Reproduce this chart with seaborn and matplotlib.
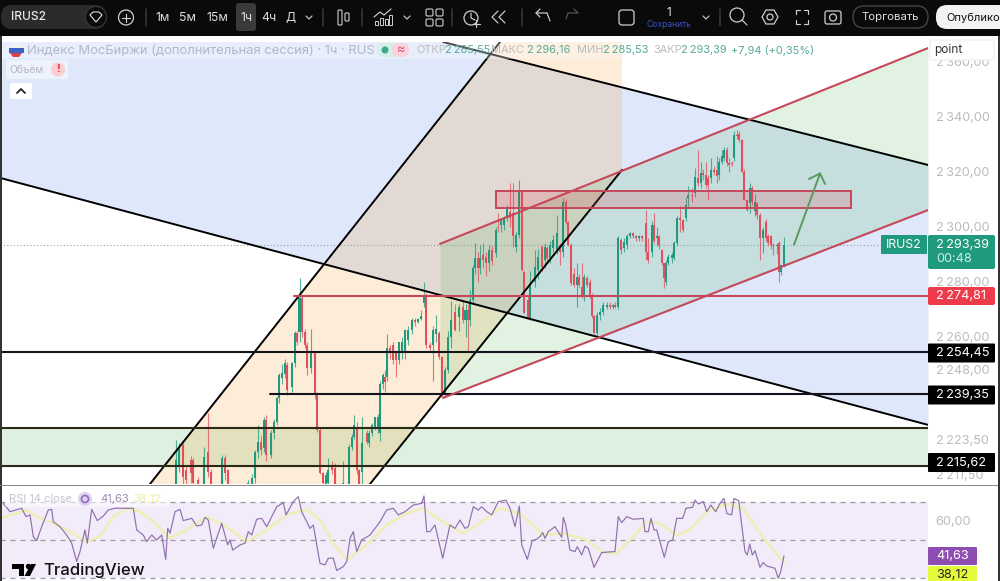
import matplotlib
matplotlib.use("Agg")
import matplotlib.pyplot as plt
from matplotlib.patches import Rectangle, FancyBboxPatch, Circle, Polygon
import pandas as pd
import seaborn as sns

# hourly candles, time axis has no labels on the picture so t is just a running position
candle_t = [176,179,183,186,191,193,198,204,208,211,
            222,225,228,248,252,255,258,261,264,266,
            271,274,277,279,282,285,287,292,295,297,
            299.5,302,305,307,311,315,317,320,323,326,
            328,332,335,343,349,352,354,357,359,362,
            367,369,372,375,378,380,383,385,387,390,
            393,396,399,402,405,408,412,415,418,421,
            424,426,430,433,436,439,442,445,448,451,
            455,459,463,465.5,468,470,473,475,478,480,
            483,486,489,492,496,498,501,504,507,510,
            513,516,519,522,524,528,530,535,538,542,
            545,547,550,553,557,560,563,566,568,571,
            574,577,579,582,584,587,590,592,594,597,
            600,603,607,610,613,615,618,621,624,627,
            630,633,636,639,642,646,648,652,654,657,
            659,662,664,666,668,672,674,677,680,683,
            686,688,692,695,698,701,703,706,708,711,
            714,717,719,722,724,727,729,732,734,737,
            739,742,744,747,750,752,755,757,760,763,
            766,768,771,773,777,779,781,784]
candle_o = [2205,2212.8,2220.7,2211.6,2215.2,2215.2,2208,2206,2218.2,2211,
            2206,2215.8,2211.6,2205,2205,2208.5,2218.2,2221.9,2219.5,2229.8,
            2217,2224.9,2229.2,2237.6,2245,2246.5,2249.8,2241.9,2250.4,2261.3,
            2261.9,2274,2261.9,2257,2248.5,2254,2239.5,2226,2210.4,2206,
            2206.7,2212.8,2212.2,2205,2206,2220.1,2223.7,2227.3,2211.6,2211,
            2225,2221.3,2225,2227.3,2227,2225,2243,2245.4,2245.5,2255.8,
            2257,2254,2251.6,2254,2254.6,2258.8,2262.5,2266,2265.5,2266.5,
            2272.2,2275.2,2257,2257,2261,2261.3,2252.8,2238.9,2247.9,2260.1,
            2269,2267.3,2271,2266,2269.8,2266.2,2273.4,2285,2288.6,2285,
            2289.8,2289,2286.8,2291.6,2290.4,2302.5,2300.7,2300.7,2303.1,2305.5,
            2304.9,2292.8,2297,2312.8,2283.7,2273.4,2266.8,2280,2284.3,2292.8,
            2288,2292.2,2288.6,2292.2,2291.6,2293.4,2291,2309.2,2301.9,2293.4,
            2283,2279,2281.9,2278.3,2275.2,2281.3,2280.1,2275.2,2267.4,2261.3,
            2268,2269.2,2270.8,2271.6,2270.8,2271.6,2271,2295.2,2292.2,2293.4,
            2296.5,2297.7,2296.7,2295.9,2296.5,2301.4,2291,2291,2300.7,2296,
            2296.5,2291.6,2286.8,2280,2286.8,2288.6,2288.6,2294,2303.1,2302.5,
            2303.1,2310.6,2311.7,2312.2,2317.7,2315.9,2319.5,2318.9,2317.7,2317.7,
            2320.7,2320.7,2318.9,2323.7,2325,2327.8,2323.1,2323.1,2325,2333.4,
            2333.8,2331.6,2320.1,2309.8,2308.6,2314,2305.6,2308.6,2304.4,2295.9,
            2301.9,2296.5,2296.5,2293.4,2293,2294,2283.4,2285.55]
candle_h = [2222.5,2221.3,2221.3,2213,2216.5,2216,2209,2220,2232.2,2212,
            2217,2217,2212,2208,2210,2219,2228,2224,2231,2231.6,
            2226,2230,2238,2247,2250,2252,2251,2251,2262,2262,
            2281.3,2275,2263,2258,2263,2255,2240,2227,2211,2211,
            2216,2215,2214,2215,2221,2224.5,2231.6,2229,2212,2231,
            2226,2226,2228.5,2231,2232,2244,2247,2248,2261,2257,
            2258,2255,2258,2260,2263,2264,2267,2267,2267,2269.8,
            2280,2276,2258,2264,2268,2262,2253,2249,2262,2273,
            2272,2272,2273,2272,2272,2277,2286,2294,2291,2293.5,
            2294,2291,2293.5,2293,2300,2305,2303,2304,2308,2315.9,
            2315.9,2298,2317,2313,2284,2275,2284,2291.6,2292,2293.5,
            2294,2293,2295,2297,2304.3,2294,2310.4,2310,2302,2294,
            2285,2286.8,2283,2286.8,2283,2282,2281,2276,2268,2269,
            2270.5,2272.5,2272.5,2272.5,2272,2272.5,2296.5,2296,2296,2297.5,
            2298,2298,2297,2297,2297,2306.2,2296,2302,2305,2300,
            2297,2292,2287,2288,2290,2291,2295,2304,2307.4,2303,
            2311,2315,2314,2321.3,2328,2323.7,2321,2323.7,2319,2325,
            2322,2325.6,2325,2328,2329,2329,2325,2324,2335,2335.3,
            2335,2332,2321,2310,2316,2315,2312,2309,2305,2300,
            2303,2297.5,2297,2294,2294,2295,2286,2296.16]
candle_l = [2200,2211,2206,2205,2207,2203,2200,2203,2209,2202,
            2203,2208,2200,2202,2203,2207,2216,2217,2218,2215,
            2216,2223,2228,2236,2243,2245,2239,2240,2249,2257,
            2258,2260,2256,2246,2247,2237.5,2225.5,2210,2206,2202,
            2204,2210,2203,2202,2204,2219,2223,2210,2203,2205,
            2221,2220,2224,2226,2225,2222,2241,2240,2244,2252,
            2250,2245.5,2250,2252,2252,2257,2261,2264,2265,2266,
            2271,2256,2255,2244,2258,2252,2238,2238,2247,2256,
            2262,2262,2265,2260,2255,2264,2272,2283,2280,2283,
            2285,2282,2284,2286,2289,2298,2298,2299,2302,2300,
            2292.8,2291,2296,2284,2268.6,2266.6,2266,2278,2281,2284,
            2285,2287,2287,2291,2290,2286,2289,2301,2293,2279,
            2278,2271,2278,2274,2273,2278,2274,2267,2261,2260,
            2266,2268,2270,2270,2270,2270.5,2270,2290,2291,2292,
            2296,2296,2295,2295,2295,2288,2287,2289,2294,2293,
            2292,2286,2277.7,2279,2286,2287,2288,2293,2298,2298,
            2302,2307,2309,2311,2315,2314,2317,2314,2309.8,2316,
            2319,2315.9,2317,2323,2324,2322,2320,2322,2324,2332,
            2331,2320,2309.8,2305.6,2305,2308,2304,2303,2288,2290.4,
            2295,2293,2292,2289.8,2290,2280,2282.5,2285.53]
candle_c = [2215.2,2220.1,2209.2,2208,2210.4,2206.7,2205,2216.4,2211,2206,
            2215.8,2210.4,2205,2207,2208.5,2218.2,2221.9,2218.8,2229.8,2217,
            2224.9,2229.2,2237.6,2246.1,2247,2250.4,2240.7,2250.4,2261.3,2258.2,
            2274,2261.9,2257,2248.5,2254,2239.5,2226,2210.4,2206.7,2209.7,
            2211.6,2211.6,2206,2207,2220.1,2223.7,2227.9,2211.6,2206,2221.3,
            2221.9,2225,2228,2231,2231,2243,2246.1,2243.5,2255.8,2254,
            2251.6,2251.6,2258,2258,2262.5,2262.5,2266,2265.5,2266.5,2267.5,
            2275.2,2257,2256,2262.5,2263,2252.8,2238.9,2247.9,2260.1,2266,
            2262.5,2271,2266,2269.7,2266.2,2273.4,2285,2288.6,2285,2288.6,
            2288,2286.8,2291.6,2287.4,2298.9,2301.9,2302.5,2303.1,2306.8,2303.1,
            2296.5,2297,2312.8,2284.3,2268.6,2266.8,2279.5,2285.5,2289.2,2285.5,
            2292.8,2288.6,2293.4,2295.2,2297.7,2291,2309.2,2301.9,2293.4,2279.5,
            2279,2281.9,2278.9,2274.6,2281.9,2278.9,2275.2,2267.4,2261.3,2268,
            2269.2,2271.6,2271.6,2270.8,2271.6,2271,2295.9,2291.6,2294.6,2296.5,
            2297.7,2296.7,2295.9,2296.5,2295.9,2291,2288,2300.7,2294.7,2296.5,
            2293.4,2286.8,2281.3,2286.8,2289.2,2289.8,2294,2303.1,2302.5,2298.9,
            2308,2311.7,2311.2,2318,2315.9,2319.5,2319,2315.3,2315.3,2320.7,
            2320,2318.3,2323.7,2325.6,2327.8,2323.1,2322.5,2322.8,2333.4,2333,
            2331.6,2320.1,2309.8,2306.2,2314,2309.2,2309.2,2304.4,2295.9,2298.9,
            2295.9,2294,2293.4,2293,2293.4,2283.4,2286.2,2293.39]

rsi_t = [3.3,10,21.7,26,30,33.3,36.7,41.7,48.3,51.7,53.3,60,66.7,71.7,76.7,80,85,87.3,91.7,97.3,
         103.3,108.3,115,121.7,133.3,136.7,143.3,146.7,151.7,156.7,161.7,165.7,167.7,170,175,180,183.3,191.7,196.7,201.7,
         205,208.3,213.3,221.7,227.7,230,232.7,240,245,248.3,251.7,256.7,261.7,266.7,276.7,283.3,286,293.3,298.3,301.7,
         310,313.3,320,325,328.3,333.3,336.7,343.3,346.7,350,353.3,356.7,361.7,370,380,386.7,393.3,398.3,405,413.3,
         421.7,424,426.7,430,435,442.7,450,455,460,465,468.3,473.3,478.3,481.7,486.7,491.7,498.3,
         506,510,515,519.3,521.7,527.3,532.3,536.7,540,542.7,545,548.3,555,561.7,563.3,565.7,570,575,577.3,
         581.7,585,588.3,594,601.7,615,618.3,621.7,626.7,633.3,643.3,645,648.3,651,654,656.7,664.3,668.3,672.7,676.7,
         682.7,686,692.7,695,698.3,703.3,706.7,710.7,715.7,720,724,726.7,731.7,734,738.7,745,747.3,749.7,752.3,755,
         760,763.3,766.7,775,778.3,780.7,784]
rsi_v = [69.3,64.9,66.7,62.3,63.2,51.8,49.6,57,65.8,66.1,59.6,57,52.6,48.3,38.6,43.9,55.3,48.3,66.1,60.2,
         62.6,65.8,66.7,66.7,66.7,55.3,52.6,49.1,52.6,50,52.6,39.8,56.2,53.5,64.9,66.1,60.2,61.4,57.4,57.9,
         61.9,60.5,45.6,58.8,47.4,50,44.7,47.4,48.3,54.4,52.6,60.9,61.4,57,67.5,69.6,63.2,70.2,72.8,64.9,
         56.1,57.9,37.7,36.9,40.4,40.4,33.9,36,38.6,50.9,54.4,43.9,50,52.6,59.6,65.8,66.7,63.2,64.9,68.4,
         69.3,73.2,54.4,54.4,57.9,40.4,57.9,56.1,60.5,56.1,57,67.5,65.8,67.5,64.9,63.2,70.2,
         71,66.7,57,67.9,47.4,39.8,49.7,50.4,51.8,53.9,50.9,54.4,57,51.4,61.9,57.9,44.7,43.9,46.5,
         42.1,46.8,45.6,35.6,43.4,43.9,62.3,59.1,62.3,60.9,61.4,54.4,54.4,61.4,55.3,55.3,40.9,49.1,50,61.4,
         61.4,66.7,67.2,71,69,70.2,64.9,68.4,64.9,69.3,71.9,64,63.2,71.9,70.7,43.9,42.1,47.9,42.1,44.4,
         35.6,38.1,36.3,35.1,29.8,33.3,41.63]
signal_t = [0,16.7,26.7,36.7,50,66.7,86.7,100,113.3,126.7,140,153.3,170,186.7,206.7,226.7,246.7,266.7,286.7,306.7,
            320,333.3,346.7,366.7,386.7,406.7,423.3,440,463.3,480,500,520,543.3,563.3,586.7,603.3,616.7,633.3,646.7,660,
            676.7,690,706.7,726.7,743.3,763.3,784]
signal_v = [61.4,64,65.8,62.3,59.6,55.3,49.1,51.8,62.3,66.7,64.9,59.6,50.9,55.3,62.3,57,49.1,55.3,63.2,66.1,
            60.5,48.3,39.5,47.4,57.9,64,66.7,60.5,53.5,58.8,66.7,64,52.6,53.5,50,43.4,43,51.8,59.6,58.8,
            52.6,55.3,64.9,68.9,66.7,50.9,38.12]
rsi_levels = [70, 50, 30]

level_prices = [2254.45, 2239.35]
level_start = [0, 270]
zone_prices = [2226.9, 2213.1]      # green band edges, drawn where the picture has them
resist_price = 2274.81
last_price = 2293.39
rect_prices = [2306.9, 2313.0]

price_ticks = [2360, 2340, 2320, 2300, 2280, 2260, 2248, 2222.6, 2210]
price_labels = ["2\u2009360,00", "2\u2009340,00", "2\u2009320,00", "2\u2009300,00", "2\u2009280,00",
                "2\u2009260,00", "2\u2009248,00", "2\u2009223,50", "2\u2009211,50"]

sns.set_theme(style="white")
plt.rcParams['font.family'] = ['Inter', 'DejaVu Sans']

GREEN = "#1f9a7e"
RED = "#e0505c"
LINE_RED = "#c4485a"
GREY = "#bcbcbc"

fig = plt.figure(figsize=(10, 5.81), dpi=100, facecolor="white")
ax = fig.add_axes([0, 1 - 484 / 581, 0.928, (484 - 42) / 581])
rsi_ax = fig.add_axes([0, 0, 0.928, 94 / 581])

df = pd.DataFrame({'t': candle_t, 'o': candle_o, 'h': candle_h, 'l': candle_l, 'c': candle_c})
df['col'] = [GREEN if c >= o else RED for o, c in zip(df['o'], df['c'])]

# channels and zones
ax.fill_between([0, 443, 928], [2408, 2367.2, 2322.5], [2317.8, 2274.9, 2228],
                color="#dfe7fb", lw=0, zorder=1)
ax.fill_between([0, 928], zone_prices[1], zone_prices[0], color="#4caf50", alpha=0.18, lw=0, zorder=1.2)
ax.add_patch(Polygon([(150, 2206.5), (500, 2367.2), (622, 2367.2), (622, 2320.7), (370, 2206.5)],
                     facecolor="#f59a23", alpha=0.18, lw=0, zorder=1.4))
ax.fill_between([440, 928], [2293.8, 2365], [2237.8, 2306.1], color="#4caf50", alpha=0.16, lw=0, zorder=1.6)

# candles
ax.vlines(df['t'], df['l'], df['h'], colors=df['col'], lw=0.8, alpha=0.75, zorder=3)
ax.bar(df['t'], (df['c'] - df['o']).abs().clip(lower=0.35), bottom=df[['o', 'c']].min(axis=1),
       width=2.6, color=df['col'], lw=0, zorder=3.2)

ax.plot([0, 883], [last_price, last_price], color="#8aa8a0", lw=0.8, ls=(0, (1, 2)), zorder=2)

# lines drawn by hand on the chart
ax.plot([443, 928], [2367.2, 2322.5], color="black", lw=1.4, zorder=4)
ax.plot([0, 928], [2317.8, 2228], color="black", lw=1.4, zorder=4)
ax.plot([150, 500], [2206.5, 2367.2], color="black", lw=1.4, zorder=4)
ax.plot([370, 622], [2206.5, 2320.7], color="black", lw=1.4, zorder=4)
for p, s in zip(level_prices, level_start):
    ax.plot([s, 928], [p, p], color="#14141e", lw=1.5, zorder=4)
for p in zone_prices:
    ax.plot([0, 928], [p, p], color="#2a2a18", lw=1.5, zorder=4)
ax.plot([294, 928], [resist_price, resist_price], color=LINE_RED, lw=1.5, zorder=4)
ax.plot([440, 928], [2293.8, 2365], color=LINE_RED, lw=1.5, zorder=4)
ax.plot([443, 928], [2237.8, 2306.1], color=LINE_RED, lw=1.5, zorder=4)
ax.add_patch(Rectangle((496, rect_prices[0]), 355, rect_prices[1] - rect_prices[0],
                       facecolor=(0.85, 0.25, 0.3, 0.2), edgecolor=LINE_RED, lw=1.4, zorder=4))
ax.plot([794, 820, 809], [2293.5, 2319.4, 2317.4], color="#5a9a5a", lw=1.4, zorder=4.5)
ax.plot([820, 825], [2319.4, 2315.6], color="#5a9a5a", lw=1.4, zorder=4.5)

ax.set_xlim(0, 928)
ax.set_ylim(2206.5, 2367.2)
ax.set_xticks([])
ax.yaxis.tick_right()
ax.set_yticks(price_ticks)
ax.set_yticklabels(price_labels)
ax.tick_params(axis='y', length=0, pad=5.5, labelsize=9.2, labelcolor=GREY)
sns.despine(ax=ax, left=True, bottom=True, top=True, right=True)

# RSI pane
rsi_ax.axhspan(rsi_levels[2], rsi_levels[0], color="#f1ebfa", lw=0, zorder=1)
for lev in rsi_levels:
    rsi_ax.axhline(lev, color="#9a9a9a", lw=0.9, ls=(0, (4, 4)), zorder=2)
sns.lineplot(x=signal_t, y=signal_v, sort=False, estimator=None, color="#efeeb4", lw=1.8, ax=rsi_ax, zorder=3)
sns.lineplot(x=rsi_t, y=rsi_v, sort=False, estimator=None, color="#8f70ab", lw=0.85, ax=rsi_ax, zorder=4)
rsi_ax.set_xlim(0, 928)
rsi_ax.set_ylim(28.4, 77.9)
rsi_ax.set_xticks([])
rsi_ax.yaxis.tick_right()
rsi_ax.set_yticks([60])
rsi_ax.set_yticklabels(["60,00"])
rsi_ax.tick_params(axis='y', length=0, pad=5.5, labelsize=9.2, labelcolor=GREY)
rsi_ax.set_xlabel("")
rsi_ax.set_ylabel("")
sns.despine(ax=rsi_ax, left=True, bottom=True, top=True, right=True)

# screen furniture: toolbar, tags, legend rows
ui = fig.add_axes([0, 0, 1, 1], zorder=10)
ui.set_xlim(0, 1000)
ui.set_ylim(581, 0)
ui.axis("off")
ui.patch.set_alpha(0)


def box(x0, y0, x1, y1, fc, ec="none", r=2, lw=1, alpha=None):
    ui.add_patch(FancyBboxPatch((x0 + r, y0 + r), x1 - x0 - 2 * r, y1 - y0 - 2 * r,
                                boxstyle=f"round,pad={r},rounding_size={r}",
                                fc=fc, ec=ec, lw=lw, alpha=alpha))


def txt(x, y, s, size=9.5, color="white", ha="left", **kw):
    ui.text(x, y, s, fontsize=size, color=color, ha=ha, va="center", **kw)


def seg(xs, ys, color="#cfcfcf", lw=0.85):
    ui.plot(xs, ys, color=color, lw=lw, solid_capstyle="round")


ui.add_patch(Rectangle((0, 0), 1000, 36, fc="#0a0a0a", lw=0))
ui.add_patch(Rectangle((0, 36), 1.5, 545, fc="#333333", lw=0))
ui.add_patch(Rectangle((998, 36), 2, 545, fc="#333333", lw=0))
ui.add_patch(Rectangle((0, 484.5), 998, 1.8, fc="#8a8a8a", lw=0))

box(1, 5, 106, 29, "#2b2b2b", r=11)
txt(11, 17.5, "IRUS2", 8.6, "#e8e8e8", weight="medium")
ui.add_patch(Circle((96, 17), 10.5, fc="#0a0a0a", ec="#333333", lw=1))
ui.add_patch(Polygon([(90, 15), (93, 12), (99, 12), (102, 15), (96, 22)], fc="none", ec="#e0e0e0", lw=0.8))
ui.add_patch(Circle((126, 17.5), 7.5, fc="none", ec="#cfcfcf", lw=0.9))
seg([122, 130], [17.5, 17.5])
seg([126, 126], [13.5, 21.5])
for x in [146, 323, 362, 452, 522, 720]:
    seg([x, x], [9, 26], "#3a3a3a", 1.1)
box(236, 3, 256, 31, "#3a3a3a", r=3)
for x, s in zip([163, 188, 217, 246, 269, 290], ["1м", "5м", "15м", "1ч", "4ч", "Д"]):
    txt(x, 18, s, 8.8, "#dcdcdc", ha="center")
for x in [309, 407, 706]:
    seg([x - 3, x, x + 3], [16, 19, 16], "#c0c0c0", 0.9)

# toolbar icons
box(338, 10, 342, 25, "none", "#cfcfcf", r=1, lw=0.8)
box(345, 13, 349, 21, "none", "#cfcfcf", r=1, lw=0.8)
seg([374, 380, 384, 391], [17, 12, 15, 9])
for x, h in [(375, 4), (380, 7), (385, 6), (389, 10)]:
    ui.add_patch(Rectangle((x, 25 - h), 3, h, fc="none", ec="#cfcfcf", lw=0.7))
for x, y in [(426, 9), (436, 9), (426, 19), (436, 19)]:
    box(x, y, x + 7, y + 7, "none", "#cfcfcf", r=1.5, lw=0.8)
ui.add_patch(Circle((471, 18), 7, fc="none", ec="#cfcfcf", lw=0.9))
seg([471, 471, 475], [13, 18, 20])
seg([476, 476], [20, 27])
seg([473, 480], [24, 24])
seg([505, 499, 505], [11, 17, 23])
seg([498, 492, 498], [11, 17, 23])
seg([547, 536, 540], [13, 13, 9])
seg([536, 540], [13, 17])
seg([547, 550], [13, 21])
seg([578, 568, 566], [13, 13, 19], "#555555")
seg([578, 574], [13, 9], "#555555")
box(619, 10, 634, 25, "none", "#cfcfcf", r=3, lw=0.9)
txt(669, 13, "1", 8.5, "#e0e0e0", ha="center")
txt(669, 24.5, "Сохранить", 6.2, "#3a52c8", ha="center")
ui.add_patch(Circle((737, 15), 7, fc="none", ec="#cfcfcf", lw=0.9))
seg([742, 747], [20, 25])
ui.add_patch(Polygon([(762, 17), (766, 10), (774, 10), (778, 17), (774, 24), (766, 24)],
                     fc="none", ec="#cfcfcf", lw=0.9))
ui.add_patch(Circle((770, 17), 3, fc="none", ec="#cfcfcf", lw=0.9))
for xs, ys in [([796, 796, 800], [14, 10, 10]), ([804, 808, 808], [10, 10, 14]),
               ([796, 796, 800], [20, 24, 24]), ([804, 808, 808], [24, 24, 20])]:
    seg(xs, ys)
box(825, 11, 841, 24, "none", "#cfcfcf", r=2, lw=0.9)
ui.add_patch(Circle((833, 17.5), 3.5, fc="none", ec="#cfcfcf", lw=0.9))
box(853, 6, 928, 28, "none", "#444444", r=11)
txt(890.5, 17.5, "Торговать", 8.2, "#e0e0e0", ha="center")
box(936, 5, 1030, 29, "#f2f2f2", r=11)
txt(946, 17.5, "Опублико", 8.0, "#111111")

# legend rows
ui.add_patch(Rectangle((2, 42), 810, 16.5, fc="white", alpha=0.3, lw=0))
ui.add_patch(Circle((16, 50), 7.5, fc="#f2f2f2", lw=0))
ui.add_patch(Rectangle((8.5, 48), 15, 5, fc="#3b62c4", lw=0))
ui.add_patch(Polygon([(10, 53), (22, 53), (19, 57), (13, 57)], fc="#d8404c", lw=0))
txt(27, 50.5, "Индекс МосБиржи (дополнительная сессия) · 1ч · RUS", 9.4, "#b4b8c4")
box(377, 43, 409, 57, "#d6efe8", r=7)
box(392, 43, 409, 57, "#fbd3dc", r=7)
ui.add_patch(Circle((385, 50), 3.5, fc="#3aa88e", lw=0))
txt(401, 50, "≈", 9, "#e0506a", ha="center")
for x, s, col in [(416, "ОТКР", GREY), (445, "2\u2009285,55", "#58a898"), (491, "МАКС", GREY),
                  (527, "2\u2009296,16", "#58a898"), (577, "МИН", GREY), (603, "2\u2009285,53", "#58a898"),
                  (653, "ЗАКР", GREY), (681, "2\u2009293,39", "#58a898"), (731, "+7,94 (+0,35%)", "#58a898")]:
    txt(x, 50, s, 7.9, col)
box(6, 60, 68, 79, "#eef2fd", r=2)
txt(9, 70, "Объём", 7.4, "#b4b8c4")
ui.add_patch(Circle((58, 69.5), 7, fc="#f9cdd2", lw=0))
txt(58, 69.5, "!", 8, "#d8404c", ha="center", weight="bold")
box(10, 83, 32, 99, "white", r=2)
seg([17, 21, 25], [93, 89, 93], "#222222", 1.3)

# price tags
box(930, 40, 994, 60, "white", "#f0f0f0", r=2)
txt(934, 50, "point", 8.5, "#333333")
box(881, 235, 927, 254, GREEN, r=1)
txt(904, 244.5, "IRUS2", 8.8, "white", ha="center")
box(928, 235, 995, 269, GREEN, r=2)
txt(936, 244.5, "2\u2009293,39", 9.2, "white")
txt(936, 259, "00:48", 9.2, "#cdeee4")
box(928, 287, 995, 305, "#ee3b4b", r=2)
txt(936, 296, "2\u2009274,81", 9.2, "white")
for y, s in [(353, "2\u2009254,45"), (395, "2\u2009239,35"), (462.5, "2\u2009215,62")]:
    box(928, y - 9.5, 995, y + 9.5, "black", r=1)
    txt(936, y, s, 9.2, "white")
box(928, 547, 977, 565, "#8e4db0", r=1)
txt(936, 556, "41,63", 9.2, "white")
box(928, 566, 977, 581, "#e6fa3c", r=1)
txt(936, 574.5, "38,12", 9.2, "#222222")

# RSI legend and logo
box(5, 490, 170, 507, "white", r=2, alpha=0.55)
txt(9, 499, "RSI 14 close", 7.9, "#c4c4cc")
ui.add_patch(Circle((85, 499), 7, fc="#dfd2f2", lw=0))
ui.add_patch(Circle((85, 499), 3.5, fc="none", ec="#8e6cc0", lw=1.2))
txt(100, 499, "41,63", 8, "#9c86ae")
txt(133, 499, "38,12", 8, "#eef09a")
ui.add_patch(Polygon([(12, 564), (24, 564), (24, 576), (19, 576), (19, 569), (12, 569)], fc="black", lw=0))
ui.add_patch(Circle((28.5, 566.5), 2.7, fc="black", lw=0))
ui.add_patch(Polygon([(31, 564), (36, 564), (30, 576), (24.5, 576)], fc="black", lw=0))
txt(43, 570, "TradingView", 12, "#111111", weight="medium")

fig.savefig("out.png", dpi=100, facecolor="white")
